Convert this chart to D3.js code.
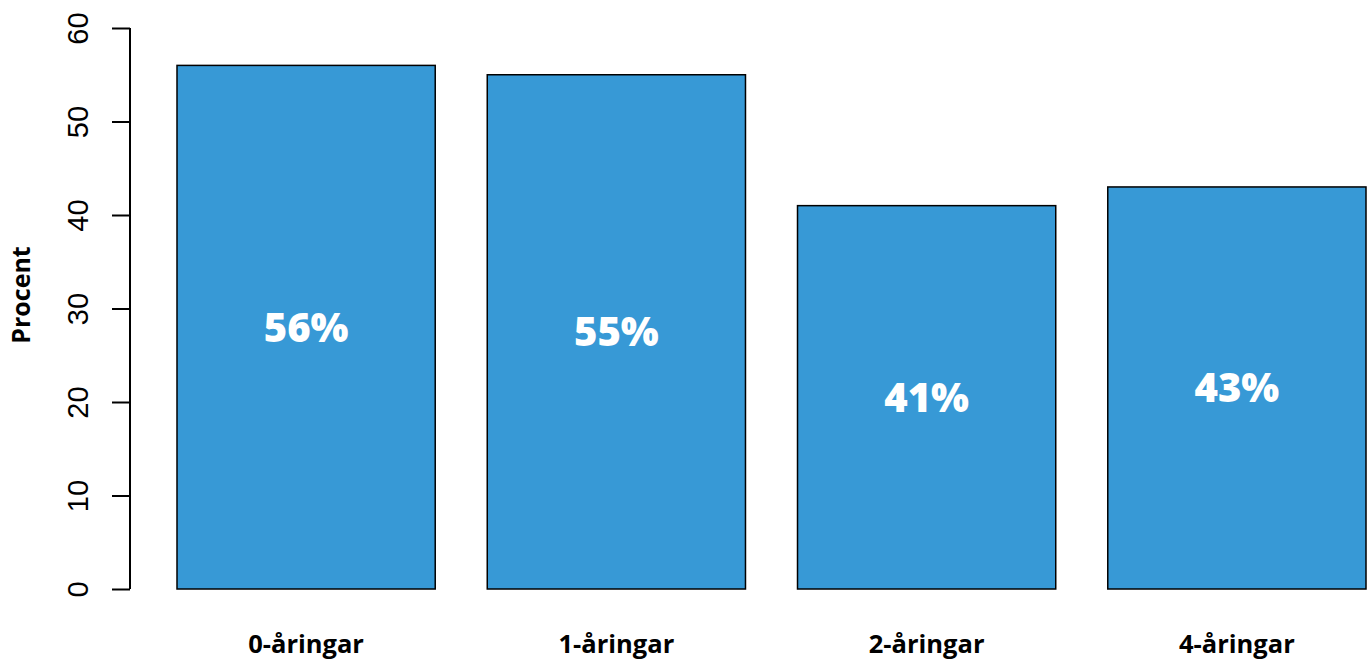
<!DOCTYPE html>
<html>
<head>
<meta charset="utf-8">
<script src="https://cdn.jsdelivr.net/npm/d3@7"></script>
<style>
  body { margin: 0; background: #fff; }
  svg { display: block; }
</style>
</head>
<body>
<div id="chart"></div>
<script>
// Data
const categories = ['0-åringar', '1-åringar', '2-åringar', '4-åringar'];
const values = [56, 55, 41, 43];
const yTicks = [0, 10, 20, 30, 40, 50, 60];

const width = 1372;
const height = 661;

const svg = d3.select('#chart')
  .append('svg')
  .attr('width', width)
  .attr('height', height);

// Scales
const x = d3.scaleBand()
  .domain(categories)
  .range([177, 1366])
  .paddingInner(0.1677)
  .paddingOuter(0);

const y = d3.scaleLinear()
  .domain([0, 60])
  .range([589, 28]);

// Bars
svg.selectAll('.bar')
  .data(values)
  .enter().append('rect')
  .attr('class', 'bar')
  .attr('x', (d, i) => x(categories[i]))
  .attr('y', (d) => y(d))
  .attr('width', x.bandwidth())
  .attr('height', (d) => y(0) - y(d))
  .style('fill', '#3799d6')
  .style('stroke', '#000')
  .style('stroke-width', 1.5);

// Value labels in the middle of each bar
svg.selectAll('.val')
  .data(values)
  .enter().append('text')
  .attr('class', 'val')
  .attr('x', (d, i) => x(categories[i]) + x.bandwidth() / 2)
  .attr('y', (d) => (y(d) + y(0)) / 2)
  .attr('dy', '0.36em')
  .attr('text-anchor', 'middle')
  .style('font-family', '"Open Sans", sans-serif')
  .style('font-weight', 800)
  .style('font-size', '40px')
  .style('fill', '#fff')
  .text((d) => d + '%');

// Y axis
const yAxis = d3.axisLeft(y)
  .tickValues(yTicks)
  .tickSize(18)
  .tickPadding(0);

const gy = svg.append('g')
  .attr('transform', 'translate(130,0)')
  .call(yAxis);

gy.select('.domain')
  .attr('d', 'M0,' + y(0) + 'V' + y(60))
  .style('stroke-width', 2);
gy.selectAll('.tick line').style('stroke-width', 2);
gy.selectAll('.tick text')
  .attr('x', 0)
  .attr('dy', 0)
  .attr('transform', 'translate(-42,0) rotate(-90)')
  .attr('text-anchor', 'middle')
  .style('font-family', '"Liberation Sans", Arial, sans-serif')
  .style('font-size', '29px')
  .style('fill', '#000');

// Category labels
svg.selectAll('.cat')
  .data(categories)
  .enter().append('text')
  .attr('class', 'cat')
  .attr('x', (d) => x(d) + x.bandwidth() / 2)
  .attr('y', 653)
  .attr('text-anchor', 'middle')
  .style('font-family', '"Open Sans", sans-serif')
  .style('font-weight', 'bold')
  .style('font-size', '25.5px')
  .text((d) => d);

// Y axis title
svg.append('text')
  .attr('transform', 'translate(30,295) rotate(-90)')
  .attr('text-anchor', 'middle')
  .style('font-family', '"Open Sans", sans-serif')
  .style('font-weight', 'bold')
  .style('font-size', '25px')
  .text('Procent');
</script>
</body>
</html>
